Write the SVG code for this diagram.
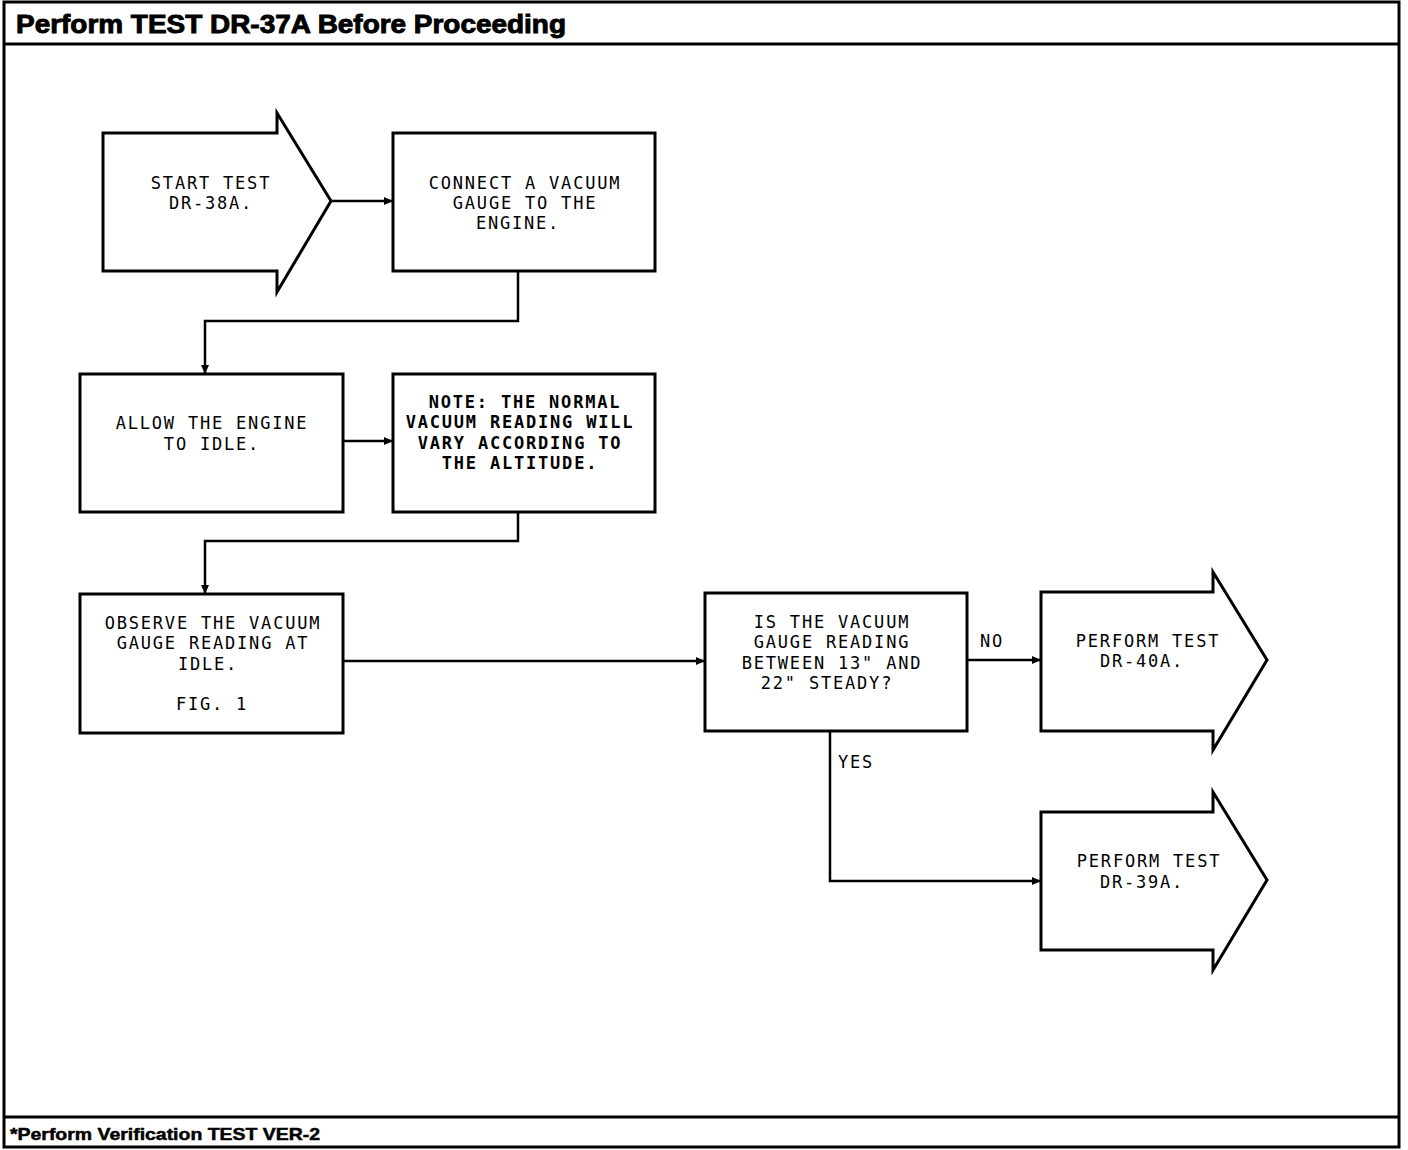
<svg xmlns="http://www.w3.org/2000/svg" width="1408" height="1150" viewBox="0 0 1408 1150">
<style>
.frame{fill:none;stroke:#000;stroke-width:3}
.box{fill:#fff;stroke:#000;stroke-width:3}
.conn{fill:none;stroke:#000;stroke-width:2.5}
.t{font-family:"DejaVu Sans Mono","Liberation Mono",monospace;font-size:17px;letter-spacing:1.8px;fill:#000;text-anchor:middle}
.tb{font-weight:bold}
.hdr{font-family:"Liberation Sans",Arial,sans-serif;font-weight:bold;fill:#000;stroke:#000;stroke-width:0.9}
</style>
<defs>
<marker id="ah" markerWidth="9" markerHeight="8" refX="9" refY="4" orient="auto" markerUnits="userSpaceOnUse">
<path d="M0,0 L9,4 L0,8 Z" fill="#000"/>
</marker>
</defs>
<rect width="1408" height="1150" fill="#fff"/>
<g id="frame">
<rect class="frame" x="4" y="2" width="1395" height="1145"/>
<line class="frame" x1="4" y1="44" x2="1399" y2="44"/>
<line class="frame" x1="4" y1="1117" x2="1399" y2="1117"/>
<text class="hdr" x="16" y="33" font-size="25" textLength="550" lengthAdjust="spacingAndGlyphs">Perform TEST DR-37A Before Proceeding</text>
<text class="hdr" x="10" y="1140" font-size="17" style="stroke-width:0.5" textLength="310" lengthAdjust="spacingAndGlyphs">*Perform Verification TEST VER-2</text>
</g>
<g id="connectors">
<line class="conn" x1="331" y1="201" x2="393" y2="201" marker-end="url(#ah)"/>
<polyline class="conn" points="518,271 518,321 205,321 205,374" marker-end="url(#ah)"/>
<line class="conn" x1="343" y1="441" x2="393" y2="441" marker-end="url(#ah)"/>
<polyline class="conn" points="518,512 518,541 205,541 205,594" marker-end="url(#ah)"/>
<line class="conn" x1="343" y1="661" x2="705" y2="661" marker-end="url(#ah)"/>
<line class="conn" x1="967" y1="660" x2="1041" y2="660" marker-end="url(#ah)"/>
<polyline class="conn" points="830,731 830,881 1041,881" marker-end="url(#ah)"/>
<text class="t" x="992" y="647">NO</text>
<text class="t" x="856" y="768">YES</text>
</g>
<g id="start">
<path class="box" d="M103,133 H277 V113 L331,201 L277,292 V271 H103 Z"/>
<text class="t" x="211" y="189">START TEST</text>
<text class="t" x="211" y="209">DR-38A.</text>
</g>
<g id="connect">
<rect class="box" x="393" y="133" width="262" height="138"/>
<text class="t" x="525" y="189">CONNECT A VACUUM</text>
<text class="t" x="525" y="209">GAUGE TO THE</text>
<text class="t" x="518" y="229">ENGINE.</text>
</g>
<g id="allow">
<rect class="box" x="80" y="374" width="263" height="138"/>
<text class="t" x="212" y="429">ALLOW THE ENGINE</text>
<text class="t" x="212" y="450">TO IDLE.</text>
</g>
<g id="note">
<rect class="box" x="393" y="374" width="262" height="138"/>
<text class="t tb" x="525" y="408">NOTE: THE NORMAL</text>
<text class="t tb" x="520" y="428">VACUUM READING WILL</text>
<text class="t tb" x="520" y="449">VARY ACCORDING TO</text>
<text class="t tb" x="520" y="469">THE ALTITUDE.</text>
</g>
<g id="observe">
<rect class="box" x="80" y="594" width="263" height="139"/>
<text class="t" x="213" y="629">OBSERVE THE VACUUM</text>
<text class="t" x="213" y="649">GAUGE READING AT</text>
<text class="t" x="208" y="670">IDLE.</text>
<text class="t" x="212" y="710">FIG. 1</text>
</g>
<g id="decision">
<rect class="box" x="705" y="593" width="262" height="138"/>
<text class="t" x="832" y="628">IS THE VACUUM</text>
<text class="t" x="832" y="648">GAUGE READING</text>
<text class="t" x="832" y="669">BETWEEN 13" AND</text>
<text class="t" x="827" y="689">22" STEADY?</text>
</g>
<g id="dr40a">
<path class="box" d="M1041,592 H1213 V572 L1267,660 L1213,750 V731 H1041 Z"/>
<text class="t" x="1148" y="647">PERFORM TEST</text>
<text class="t" x="1142" y="667">DR-40A.</text>
</g>
<g id="dr39a">
<path class="box" d="M1041,812 H1213 V792 L1267,880 L1213,970 V950 H1041 Z"/>
<text class="t" x="1149" y="867">PERFORM TEST</text>
<text class="t" x="1142" y="888">DR-39A.</text>
</g>
</svg>
